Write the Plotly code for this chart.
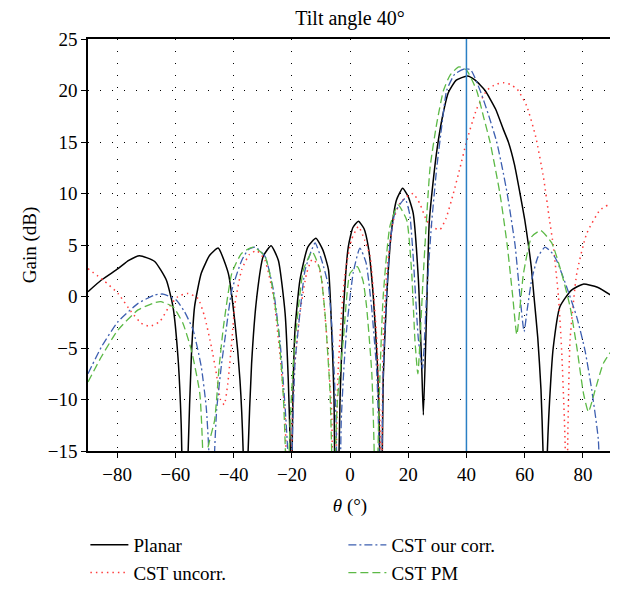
import plotly.graph_objects as go

# angles (deg) and gain (dB); nulls that fall below the axis are set to -30
planar_theta = [-90, -85.4, -79.7, -76, -72.3, -67.1, -63.1, -60.8, -59.1, -58, -56.7, -55.6, -54.5, -53.4,
                -51.1, -48.2, -45.3, -41.8, -39.5, -37.8, -36.7, -35.9, -35, -33.8, -32, -29.8, -27.1,
                -24.6, -22.3, -21.2, -20.5, -20.2, -19.8, -18.9, -17.2, -14.5, -11.7, -9.3, -7.4, -6.3,
                -5.5, -4.8, -3.4, -2.3, -0.6, 1, 2.9, 4.8, 6.3, 8, 9.4, 10.1, 10.5, 11.4, 12.6, 14.3, 16,
                18.1, 20, 21.7, 23.5, 24.6, 25.2, 26.3, 27.2, 28.5, 30, 31.8, 33.8, 36.5, 40.3, 43, 46.4,
                50, 52.7, 54.4, 56.5, 58.4, 60, 61.3, 62.3, 63.2, 64.5, 65.6, 66.3, 67, 67.8, 69, 69.8,
                72.1, 76, 80.1, 85, 90]
planar_gain = [0.47, 1.6, 2.7, 3.5, 3.96, 3.4, 1.6, -1.0, -5.85, -12.3, -30, -15, -5.85, -1.0,
               2.25, 4.0, 4.7, 2.25, -2.6, -8.1, -15, -30, -15, -6.5, 0.0, 3.9, 4.93,
               3.5, -1.6, -8.1, -15, -30, -13, -3.25, 1.6, 4.8, 5.65, 4.5, 2.6, -3.25,
               -9.7, -30, -9.7, -1.6, 4.8, 6.7, 7.3, 6.6, 4.8, 0.0, -6.5, -13, -30, -8.1, 0.0, 6.5, 9.4,
               10.5, 9.7, 8.1, 1.6, -6.5, -11.5, -1.6, 7.1, 11.0, 14.5, 17.5, 19.8, 21.0, 21.4, 21.0, 20.0,
               18.2, 16.2, 15.0, 12.8, 10.0, 7.5, 5.0, 2.8, 0.0, -4.0, -9.0, -15, -30, -15, -8.0, -5.0,
               -1.0, 0.6, 1.2, 0.9, 0.05]

uncorr_theta = [-90, -84.8, -79.7, -75.1, -71.7, -68.8, -65.4, -62.5, -59.1, -55.6, -52.2, -49.9, -47.6,
                -45.9, -44.5, -43.2, -42, -40.5, -39.5, -37.2, -34.5, -32, -29.2, -26.3, -24, -22.3,
                -21, -19.8, -18.9, -17.2, -14.9, -13, -11, -9.7, -8, -6.3, -5.6, -4.2, -3, -1.7, 0.5,
                2.9, 5, 6.9, 9.2, 10.3, 10.7, 11.4, 12.6, 14.9, 17, 19.5, 21.7, 24, 26.3, 28.5, 30.9,
                33, 35.5, 37.8, 40, 43.5, 47, 50, 52.7, 55, 57.5, 60.7, 63.8, 66.5, 68.5, 69.8, 71.6,
                72.7, 73.9, 74.3, 74.8, 75.6, 77.9, 81.3, 85.9, 90]
uncorr_gain = [2.7, 1.6, 0.3, -1.5, -2.6, -2.9, -2.45, -1.15, 0.0, 0.3, -0.2, -2.0, -4.9,
               -7.5, -10.0, -10.5, -8.5, -4.0, -0.7, 2.6, 4.1, 4.45, 3.5, 0.0, -5.8, -11.7,
               -30, -12, -6.5, -1.6, 2.25, 3.6, 3.1, 1.6, -3.9, -11.3, -30, -8.0, -2.0, 2.25, 5.5,
               6.8, 5.5, 3.9, -4.2, -12.3, -30, -4.2, 2.25, 7.4, 9.0, 9.7, 10.0, 9.0, 7.4, 6.7, 6.5,
               7.6, 10.0, 12.5, 15.0, 18.2, 20.0, 20.6, 20.75, 20.6, 20.1, 18.5, 15.5, 11.5, 7.5, 5.0, 0.0,
               -5.2, -14.3, -30, -14, -4.2, 2.25, 6.1, 8.4, 9.1]

ourcorr_theta = [-90, -85.4, -79.7, -72.8, -67.1, -64.2, -59.7, -56.8, -53.9, -51.1, -49.4, -48.5, -47.6,
                 -46.5, -45.8, -44.1, -42.9, -40.6, -37.2, -34.8, -32.6, -29.2, -26.3, -24, -22.3, -21.4,
                 -20.6, -19.8, -18.9, -17.2, -15.4, -12, -9.7, -7.4, -6, -4.8, -4, -3, -2, -1.1, 1.1,
                 3.4, 5.5, 7.4, 9.2, 10, 10.5, 11, 11.4, 12.6, 13.7, 15.5, 18.9, 20.5, 21.7, 23.5, 24.9,
                 26.3, 28, 29.8, 31.5, 33.2, 36, 39.5, 41.5, 44.7, 47.5, 50.4, 52.3, 54, 55.4, 56.7, 58.4,
                 59.8, 61, 62.4, 64.5, 67, 69.5, 71, 74.4, 77.9, 80.7, 83, 85.3, 86.5, 88.5, 90]
ourcorr_gain = [-7.5, -4.9, -2.45, -0.67, 0.15, 0.24, -0.34, -1.5, -3.25, -6.8, -10.7, -15, -30,
                -15, -11.0, -6.5, -4.0, 0.6, 3.5, 4.6, 4.8, 3.9, 0.6, -4.5, -10.7, -15,
                -30, -14, -6.5, -1.6, 2.6, 5.2, 3.5, 1.0, -4.0, -12, -30, -12, -6.5, -3.0, 2.3,
                4.7, 3.3, -1.0, -7.4, -15, -30, -15, -7.4, 0.3, 5.0, 8.2, 9.5, 8.0, 3.9, -4.2, -7.0,
                0.0, 7.0, 12.5, 16.5, 20.0, 21.6, 22.1, 22.0, 20.0, 17.7, 15.0, 12.5, 10.0, 7.5, 5.0, 0.0,
                -3.4, -1.0, 1.6, 3.8, 4.8, 4.2, 3.5, 0.95, -2.0, -5.2, -9.0, -13.9, -25, -16.5, -14]

pm_theta = [-90, -85.4, -79.7, -72.8, -67.1, -65, -60.8, -57.4, -54.5, -51.6, -50.6, -49.8, -49, -46.5,
            -45, -43.5, -40.6, -37.2, -33.2, -29.2, -26.9, -24.6, -22.9, -22.2, -21.7, -20.8, -19.5,
            -17.7, -16, -13, -10.3, -8.6, -6.9, -6.3, -5.7, -5, -4.3, -2.3, 0, 2.5, 4.5, 5.7, 7.5, 8.3,
            8.8, 9.6, 10.3, 11.4, 13.7, 16.5, 19.5, 21.2, 22.3, 23.3, 25.2, 27.5, 29.8, 32.1, 34.4,
            37.4, 40, 43.5, 46, 48.1, 51.5, 54, 55.9, 57.3, 59.6, 62.4, 65.5, 69.3, 72.7, 75.6, 77.9,
            80.2, 81.9, 84.2, 87, 90]
pm_gain = [-8.3, -5.85, -3.25, -1.3, -0.6, -0.5, -1.0, -2.6, -5.2, -9.4, -15, -30, -15, -12.0,
           -7.0, -3.0, 2.25, 4.2, 4.8, 3.9, 1.3, -3.25, -9.7, -15, -30, -14, -6.5,
           -1.0, 2.6, 4.35, 2.6, -1.6, -9.1, -15, -30, -15, -10.0, -4.2, 2.25, 2.9, 1.5, -1.0, -7.5, -15,
           -30, -15, -7.5, 0.0, 6.8, 8.9, 7.4, 2.25, -4.2, -7.5, 2.25, 12.5, 16.8, 20.0, 21.5,
           22.3, 22.0, 20.0, 17.3, 15.0, 10.0, 5.0, 0.0, -3.7, 2.25, 5.8, 6.4, 5.2, 2.25, -1.0, -4.9,
           -9.4, -11.2, -9.1, -6.5, -5.2]

tilt = 40
x_ticks = [-80, -60, -40, -20, 0, 20, 40, 60, 80]
y_ticks = [-15, -10, -5, 0, 5, 10, 15, 20, 25]

serif = "Liberation Serif"
curve = dict(shape="spline", smoothing=0.5)

fig = go.Figure()
fig.add_trace(go.Scatter(x=planar_theta, y=planar_gain, name="Planar", mode="lines",
                         line=dict(color="black", width=1.5, **curve), legendrank=1))
fig.add_trace(go.Scatter(x=uncorr_theta, y=uncorr_gain, name="CST uncorr.", mode="lines",
                         line=dict(color="#ff3b3b", width=1.5, dash="1.5px,4px", **curve), legendrank=3))
fig.add_trace(go.Scatter(x=ourcorr_theta, y=ourcorr_gain, name="CST our corr.", mode="lines",
                         line=dict(color="#3d5fb0", width=1.3, dash="8px,3px,2px,3px", **curve), legendrank=2))
fig.add_trace(go.Scatter(x=pm_theta, y=pm_gain, name="CST PM", mode="lines",
                         line=dict(color="#5cb946", width=1.3, dash="8px,4px", **curve), legendrank=4))

# steering direction
fig.add_shape(type="line", x0=tilt, x1=tilt, y0=-15, y1=25, xref="x", yref="y",
              line=dict(color="#2a7fc4", width=1.5))

axis_common = dict(showline=True, linecolor="black", linewidth=1.5, mirror=True,
                   ticks="outside", ticklen=5, tickcolor="black", automargin=False,
                   showgrid=True, gridcolor="black", gridwidth=1, griddash="1px,11px",
                   zeroline=False, tickfont=dict(family=serif, size=19, color="black"))

fig.update_xaxes(range=[-90, 90], tickvals=x_ticks,
                 title=dict(text="<i>θ</i> (°)", font=dict(family=serif, size=19, color="black"), standoff=15),
                 **axis_common)
fig.update_yaxes(range=[-15, 25], tickvals=y_ticks,
                 title=dict(text="Gain (dB)", font=dict(family=serif, size=19, color="black"), standoff=6),
                 **axis_common)

# the page body adds an 8px offset, margins compensate for it
fig.update_layout(
    width=618, height=590,
    margin=dict(l=80, r=14, t=31, b=147, autoexpand=False),
    plot_bgcolor="white", paper_bgcolor="white",
    title=dict(text="Tilt angle 40°", x=0.5, xref="paper", y=0.983, yanchor="middle",
               font=dict(family=serif, size=20, color="black")),
    legend=dict(orientation="h", x=-0.005, xanchor="left", y=-0.182, yanchor="top",
                entrywidth=205, itemwidth=38, font=dict(family=serif, size=19, color="black"),
                bgcolor="rgba(0,0,0,0)", tracegroupgap=0),
    showlegend=True,
)

fig.write_html("out.html")
